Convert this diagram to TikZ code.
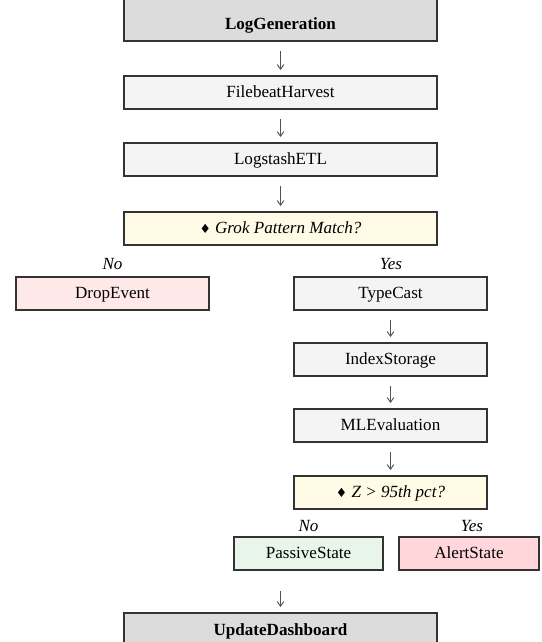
\documentclass[tikz,border=0pt]{standalone}
\usepackage{fontspec}
\setmainfont{Liberation Serif}
\newfontfamily\symfont{DejaVu Sans}
\usetikzlibrary{arrows.meta}
\definecolor{bordc}{HTML}{333333}
\definecolor{hdrc}{HTML}{DCDCDC}
\definecolor{procc}{HTML}{F4F4F4}
\definecolor{decc}{HTML}{FFFBE6}
\definecolor{dropc}{HTML}{FFE8E8}
\definecolor{passc}{HTML}{E8F5E9}
\definecolor{alertc}{HTML}{FFD6DA}
\definecolor{arrc}{HTML}{4A5560}
\newcommand{\basefont}{\fontsize{12.8}{15}\selectfont}
\tikzset{
  procbox/.style={draw=bordc, line width=1.5pt, fill=procc, minimum height=24.75pt,
    inner ysep=0pt, text height=9.5pt, text depth=2pt, font=\basefont},
  hdrbox/.style={draw=bordc, line width=1.5pt, fill=hdrc, inner ysep=0pt,
    font=\basefont\bfseries, minimum width=234.75pt},
  decbox/.style={procbox, fill=decc, font=\basefont\itshape},
  lbl/.style={font=\basefont\itshape, inner sep=0pt},
  arr/.style={draw=arrc, line width=0.7pt, -{Straight Barb[length=3.5pt,width=5pt]},
    shorten <=6.75pt, shorten >=3.75pt}
}
\newcommand{\dmd}{{\symfont\fontsize{9.5}{10}\selectfont ♦}\ }
\begin{document}
\begin{tikzpicture}[x=0.75pt,y=-0.75pt]
\clip (0,0) rectangle (542,642);
\fill[white] (0,0) rectangle (542,642);
\node[hdrbox, anchor=base, text height=30pt, text depth=8.25pt] (lg) at (280.5,30) {LogGeneration};
\node[procbox, minimum width=234.75pt] (fh) at (280.5,92.5) {FilebeatHarvest};
\node[procbox, minimum width=234.75pt] (ls) at (280.5,159.5) {LogstashETL};
\node[decbox, minimum width=234.75pt] (grok) at (280.5,228.5) {\dmd Grok Pattern Match?};
\node[lbl] (no1) at (112.5,264) {No};
\node[lbl] (yes1) at (391,264) {Yes};
\node[procbox, fill=dropc, minimum width=144.75pt] (drop) at (112.5,293.5) {DropEvent};
\node[procbox, minimum width=144.75pt] (tc) at (390.5,293.5) {TypeCast};
\node[procbox, minimum width=144.75pt] (idx) at (390.5,359.5) {IndexStorage};
\node[procbox, minimum width=144.75pt] (ml) at (390.5,425.5) {MLEvaluation};
\node[decbox, minimum width=144.75pt] (z) at (390.5,492.5) {\dmd Z > 95th pct?};
\node[lbl] (no2) at (308.5,526) {No};
\node[lbl] (yes2) at (472,526) {Yes};
\node[procbox, fill=passc, minimum width=111.75pt] (pass) at (308.5,553.5) {PassiveState};
\node[procbox, fill=alertc, minimum width=105pt] (alert) at (469,553.5) {AlertState};
\node[hdrbox, anchor=base, text height=16.5pt, text depth=20pt] (ud) at (280.5,635) {UpdateDashboard};
\draw[arr] (lg) -- (fh);
\draw[arr] (fh) -- (ls);
\draw[arr] (ls) -- (grok);
\draw[arr] (tc) -- (idx);
\draw[arr] (idx) -- (ml);
\draw[arr] (ml) -- (z);
\draw[arr, shorten <=15pt] (pass.south -| ud.north) -- (ud.north);
\end{tikzpicture}
\end{document}
